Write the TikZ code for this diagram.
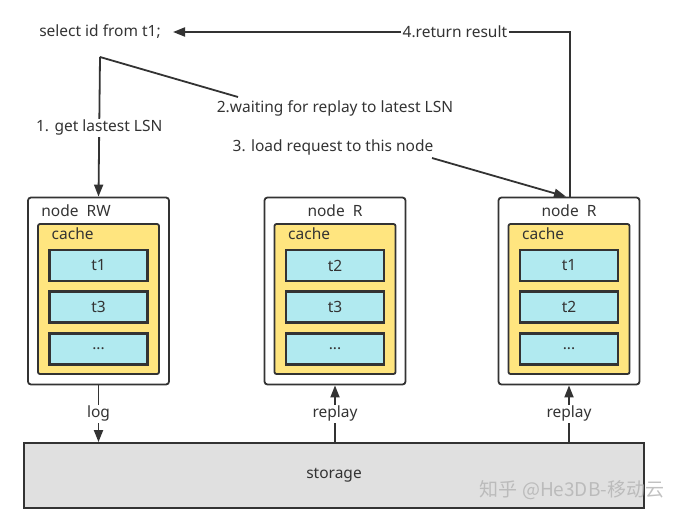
\documentclass[tikz,border=0pt]{standalone}
\usepackage{fontspec}
\setmainfont{Noto Sans}
\newfontfamily\cjk{Noto Sans CJK SC}
\usetikzlibrary{arrows.meta}
\definecolor{ink}{HTML}{333333}
\definecolor{cachey}{HTML}{FFE57F}
\definecolor{tcyan}{HTML}{B1EAF0}
\definecolor{stor}{HTML}{E0E0E0}
\begin{document}
\begin{tikzpicture}[x=1pt,y=-1pt, font=\fontsize{15.5}{18}\selectfont, text=ink,
 outerbox/.style={draw=ink, line width=1.8pt, rounded corners=3pt, fill=white, minimum width=141pt, minimum height=187pt, inner sep=0pt},
 cachebox/.style={draw=ink, line width=1.8pt, fill=cachey, rounded corners=2pt, minimum width=121pt, minimum height=150pt, inner sep=0pt},
 tbox/.style={draw=ink, line width=2.2pt, fill=tcyan, minimum width=98pt, minimum height=31pt, inner sep=0pt},
 arr/.style={draw=ink, line width=1.8pt, -{Triangle[length=12pt,width=9pt]}},
 ln/.style={draw=ink, line width=1.8pt},
 lab/.style={fill=white, inner sep=1.5pt}]
\path[use as bounding box] (0,0) rectangle (681,517);

% storage
\node[draw=ink, line width=1.8pt, fill=stor, minimum width=620pt, minimum height=65pt, inner sep=0pt] (st) at (334,475.5) {storage};

% three nodes
\foreach \nm/\cx/\ta/\tb in {rw/98.5/t1/t3, mr/335/t2/t3, rr/569/t1/t2}{
  \node[outerbox] (\nm) at (\cx,291) {};
  \node[cachebox] (\nm c) at (\cx,299) {};
  \node[tbox] (\nm a) at (\cx,265.5) {\ta};
  \node[tbox] (\nm b) at (\cx,307) {\tb};
  \node[tbox] (\nm d) at (\cx,349) {...};
  \node[anchor=west, inner sep=0pt] (\nm k) at ([xshift=-47pt]\cx,234) {cache};
}
\node[inner sep=0pt] (rwt) at (76,211) {node\ \ RW};
\node[inner sep=0pt] (mrt) at (335,211) {node\ \ R};
\node[inner sep=0pt] (rrt) at (569,211) {node\ \ R};

% query and labels
\node[inner sep=0pt] (sel) at (100,32) {select id from t1;};
\node[inner sep=0pt] (l2) at (335,108) {2.waiting for replay to latest LSN};
\node[inner sep=0pt] (l3) at (333,147) {3. load request to this node};
\coordinate (split) at (100,57);
\coordinate (d2) at (238,97);
\coordinate (l3s) at (432,158);

\draw[arr] (split) -- node[lab, pos=0.507] {1. get lastest LSN} (rw.north);
\draw[ln] (split) -- (d2);
\draw[arr] (l3s) -- ([xshift=-3pt]rr.north);
\draw[arr] ([xshift=1pt]rr.north) -- ([xshift=1pt]rr.north |- sel) -- node[lab, pos=0.29] {4.return result} (173,32);

% storage arrows
\draw[arr] (rw.south) -- node[lab] {log} (rw.south |- st.north);
\draw[arr] (mr.south |- st.north) -- node[lab] {replay} (mr.south);
\draw[arr] (rr.south |- st.north) -- node[lab] {replay} (rr.south);

% watermark
\node[text=black!30, opacity=0.8, font=\fontsize{19}{21}\selectfont] (wm) at (572,490) {\cjk 知乎 @He3DB-移动云};
\end{tikzpicture}
\end{document}
